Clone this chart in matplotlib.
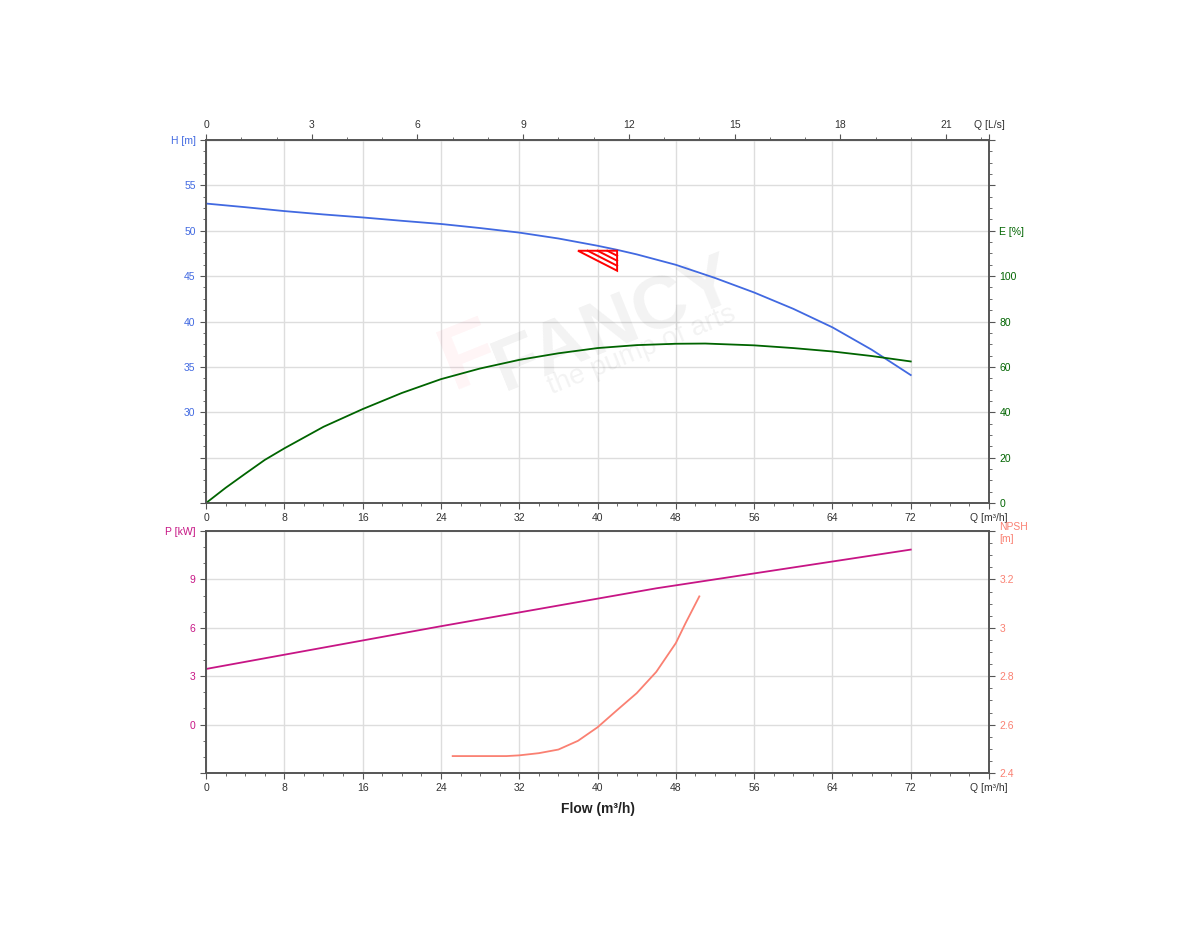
import numpy as np
import matplotlib
matplotlib.use("Agg")
import matplotlib.pyplot as plt
from matplotlib.ticker import MultipleLocator
from matplotlib.patches import Polygon

plt.rcParams['font.family'] = ['Liberation Sans', 'DejaVu Sans']

# --- данные ---
q_h = [0, 4, 8, 12, 16, 20, 24, 28, 32, 36, 40, 42, 44, 48, 52, 56, 60, 64, 68, 72]
h_m = [53.0, 52.6, 52.17, 51.8, 51.47, 51.1, 50.75, 50.3, 49.8, 49.15, 48.35, 47.9,
       47.4, 46.25, 44.8, 43.2, 41.4, 39.36, 36.9, 34.1]

q_e = [0, 2, 4, 6, 8, 12, 16, 20, 24, 28, 32, 36, 40, 44, 48, 51, 56, 60, 64, 68, 72]
e_pct = [0, 6.7, 12.9, 19.0, 24.1, 33.6, 41.4, 48.5, 54.6, 59.3, 63.1, 66.0, 68.3,
         69.6, 70.2, 70.3, 69.5, 68.3, 66.8, 64.8, 62.4]

q_p = [0, 24, 46, 72]
p_kw = [3.45, 6.1, 8.45, 10.85]

q_npsh = [25.2, 28, 30.7, 32, 34, 36, 38, 40, 42, 44, 46, 48, 49, 50.4]
npsh_m = [2.47, 2.47, 2.47, 2.473, 2.482, 2.497, 2.533, 2.589, 2.66, 2.73, 2.818,
          2.937, 3.02, 3.13]

# рабочая точка (треугольник)
duty_q = [38, 42, 42]
duty_h = [47.8, 47.8, 45.6]

C_H = "#4169E1"
C_E = "#006400"
C_P = "#C71585"
C_N = "#FA8072"
C_SP = "#555555"
C_GR = "#dddddd"
FS = 7.5

fig = plt.figure(figsize=(12, 9.5), dpi=100)
ax1 = fig.add_axes([0.1717, 0.4705, 0.6525, 0.3821])
ax3 = fig.add_axes([0.1717, 0.1863, 0.6525, 0.2547])


def style(ax):
    for s in ax.spines.values():
        s.set_color(C_SP)
        s.set_linewidth(1.2)
    ax.tick_params(which="both", direction="out", colors=C_SP, labelsize=FS)
    ax.tick_params(which="major", length=4)
    ax.tick_params(which="minor", length=2.5)
    ax.grid(True, color=C_GR, linewidth=1)
    ax.set_axisbelow(True)


def style_twin(ax, color):
    ax.tick_params(which="both", direction="out", colors=C_SP, labelsize=FS)
    ax.tick_params(which="major", length=4)
    ax.tick_params(which="minor", length=2.5)
    for lab in ax.get_yticklabels():
        lab.set_color(color)
    for s in ax.spines.values():
        s.set_color(C_SP)
        s.set_linewidth(1.2)


# --- верхний график: напор и КПД ---
style(ax1)
ax1.set_xlim(0, 80)
ax1.set_ylim(20, 60)
ax1.plot(q_h, h_m, color=C_H, lw=1.3, zorder=4)
ax1.set_xticks(np.arange(0, 81, 8))
ax1.set_xticklabels([str(v) for v in range(0, 73, 8)] + ["Q [m³/h]"])
ax1.xaxis.set_minor_locator(MultipleLocator(2))
ax1.set_yticks(np.arange(20, 61, 5))
ax1.set_yticklabels(["", "", "30", "35", "40", "45", "50", "55", "H [m]"])
ax1.yaxis.set_minor_locator(MultipleLocator(1.25))
for lab in ax1.get_yticklabels():
    lab.set_color(C_H)
for lab in ax1.get_xticklabels():
    lab.set_color("#333333")

# треугольник рабочей точки со штриховкой параллельно гипотенузе
tri = Polygon(list(zip(duty_q, duty_h)), closed=True, facecolor="none",
              edgecolor="red", lw=1.4, zorder=5)
ax1.add_patch(tri)
q0, q1 = duty_q[0], duty_q[1]
h0, h1 = duty_h[0], duty_h[2]
for t in (0.25, 0.5, 0.75):
    ax1.plot([q0 + (q1 - q0) * t, q1], [h0, h0 - (h0 - h1) * (1 - t)],
             color="red", lw=1.4, zorder=5)

# водяной знак
ax1.text(0.522, 0.49, "FANCY", transform=ax1.transAxes, fontsize=54, fontweight="bold",
         color="#000000", alpha=0.05, rotation=22, ha="center", va="center")
ax1.text(0.557, 0.42, "the pump of arts", transform=ax1.transAxes, fontsize=20,
         color="#000000", alpha=0.05, rotation=22, ha="center", va="center")
ax1.text(0.337, 0.40, "F", transform=ax1.transAxes, fontsize=64, fontweight="bold",
         color="#ff3050", alpha=0.05, rotation=22, ha="center", va="center")

ax2 = ax1.twinx()
ax2.set_ylim(0, 160)
ax2.plot(q_e, e_pct, color=C_E, lw=1.3)
ax2.set_yticks(np.arange(0, 161, 20))
ax2.set_yticklabels(["0", "20", "40", "60", "80", "100", "E [%]", "", ""])
ax2.yaxis.set_minor_locator(MultipleLocator(5))
style_twin(ax2, C_E)

top = ax1.secondary_xaxis("top", functions=(lambda x: x / 3.6, lambda x: x * 3.6))
top.set_xticks(list(range(0, 22, 3)) + [80 / 3.6])
top.set_xticklabels([str(v) for v in range(0, 22, 3)] + ["Q [L/s]"])
top.xaxis.set_minor_locator(MultipleLocator(1))
top.tick_params(which="both", direction="out", colors=C_SP, labelsize=FS, labelcolor="#333333")
top.tick_params(which="major", length=4)
top.tick_params(which="minor", length=2.5)
top.spines["top"].set_color(C_SP)

# --- нижний график: мощность и NPSH ---
style(ax3)
ax3.set_xlim(0, 80)
ax3.set_ylim(-3, 12)
ax3.plot(q_p, p_kw, color=C_P, lw=1.3)
ax3.set_xticks(np.arange(0, 81, 8))
ax3.set_xticklabels([str(v) for v in range(0, 73, 8)] + ["Q [m³/h]"])
ax3.xaxis.set_minor_locator(MultipleLocator(2))
ax3.set_yticks(np.arange(-3, 13, 3))
ax3.set_yticklabels(["", "0", "3", "6", "9", "P [kW]"])
ax3.yaxis.set_minor_locator(MultipleLocator(1))
for lab in ax3.get_yticklabels():
    lab.set_color(C_P)
for lab in ax3.get_xticklabels():
    lab.set_color("#333333")
ax3.set_xlabel("Flow (m³/h)", fontsize=10, fontweight="bold", color="#222222", labelpad=6)

ax4 = ax3.twinx()
ax4.set_ylim(2.4, 3.4)
ax4.plot(q_npsh, npsh_m, color=C_N, lw=1.3)
ax4.set_yticks([2.4, 2.6, 2.8, 3.0, 3.2, 3.4])
ax4.set_yticklabels(["2.4", "2.6", "2.8", "3", "3.2", "NPSH\n[m]"])
ax4.yaxis.set_minor_locator(MultipleLocator(0.05))
style_twin(ax4, C_N)

fig.savefig("out.png", dpi=100, facecolor="white")
